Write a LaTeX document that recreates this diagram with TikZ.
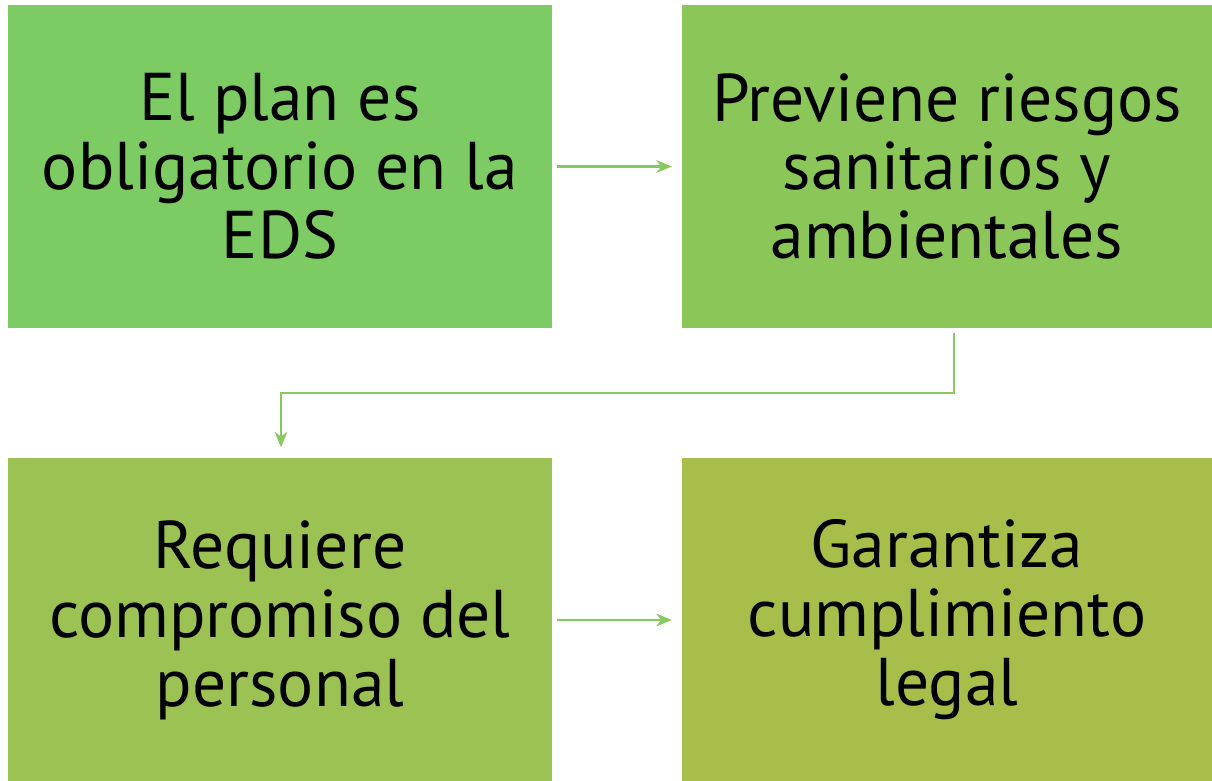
\documentclass[tikz,border=0pt]{standalone}
\usepackage{fontspec}
\setmainfont{PT Sans}
\usepackage{xcolor}
\usetikzlibrary{arrows.meta,positioning,calc}

\definecolor{boxa}{HTML}{7CCB63}
\definecolor{boxb}{HTML}{8BC658}
\definecolor{boxc}{HTML}{9BC253}
\definecolor{boxd}{HTML}{A7BF4A}
\definecolor{linkgreen}{HTML}{86C95F}

\begin{document}
\begin{tikzpicture}[
    x=0.025cm, y=-0.025cm,
    box/.style={rectangle, draw=none, minimum width=13.6cm, minimum height=8.075cm, align=center, font=\fontsize{48}{49}\selectfont, inner sep=0pt},
    arrow/.style={-{Stealth[length=11pt, width=9pt, inset=3.5pt]}, draw=linkgreen, line width=1.6pt}
]
\useasboundingbox (0,0) rectangle (1212,781);

% Boxes
\node[box, fill=boxa] (plan) at (280,166.5) {El plan es\\obligatorio en la\\EDS};
\node[box, fill=boxb, minimum width=13.25cm] (riesgos) at (947,166.5) {Previene riesgos\\sanitarios y\\ambientales};
\node[box, fill=boxc] (personal) at (280,620) {Requiere\\compromiso del\\personal};
\node[box, fill=boxd, minimum width=13.25cm] (legal) at (947,620) {Garantiza\\cumplimiento\\legal};

% Arrows
\draw[arrow, shorten <=3.5pt, shorten >=7pt] (plan) -- (riesgos);
\draw[arrow, shorten <=3.5pt, shorten >=7.8pt] ([xshift=0.175cm]riesgos.south) -- ++(0,65) -| ([xshift=0.025cm]personal.north);
\draw[arrow, shorten <=3.5pt, shorten >=7pt] (personal) -- (legal);

\end{tikzpicture}
\end{document}
